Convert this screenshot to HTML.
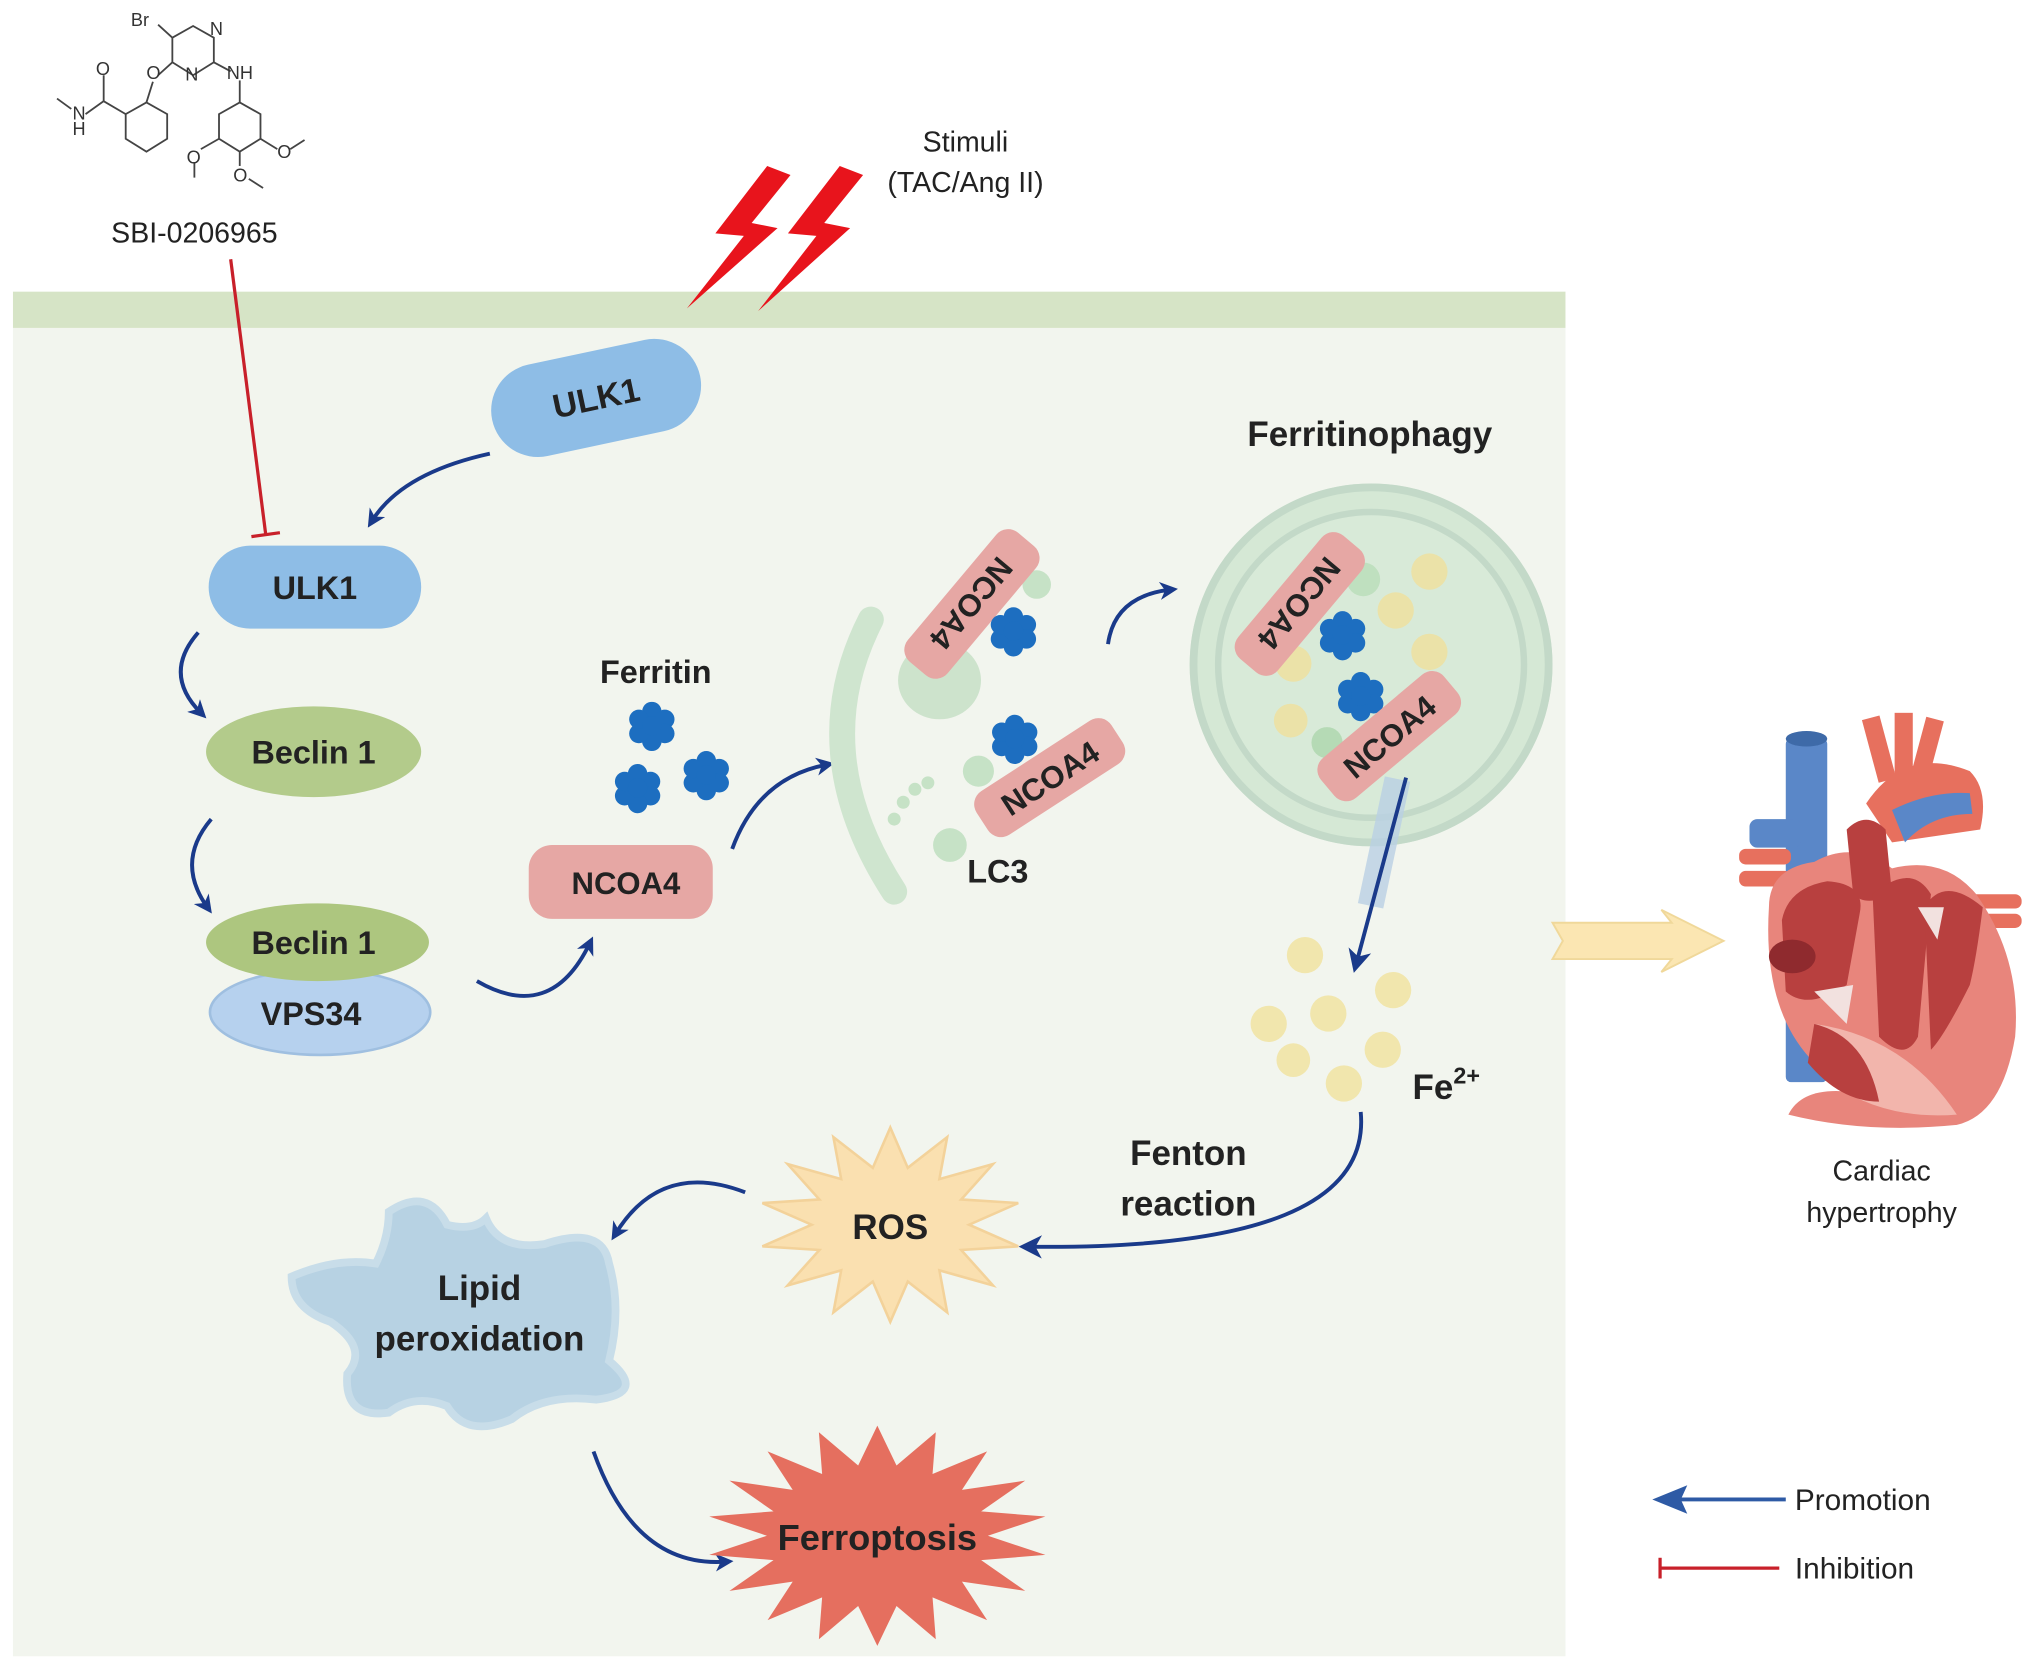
<!DOCTYPE html>
<html><head><meta charset="utf-8"><style>
html,body{margin:0;padding:0;background:#fff;}
svg{display:block;}
text{font-family:"Liberation Sans",Arial,sans-serif;}
.b{font-weight:bold;}
</style></head><body>
<svg id="s" width="2032" height="1668" viewBox="0 0 1568 1287" xmlns="http://www.w3.org/2000/svg">
<defs>
<marker id="ah" markerWidth="14" markerHeight="14" refX="8" refY="7" orient="auto" markerUnits="userSpaceOnUse" viewBox="0 0 14 14"><path d="M0,0 L14,7 L0,14 L4,7 Z" fill="#1a3a8a"/></marker>
<marker id="ah2" markerWidth="18" markerHeight="18" refX="9" refY="9" orient="auto" markerUnits="userSpaceOnUse" viewBox="0 0 18 18"><path d="M0,0 L18,9 L0,18 L5,9 Z" fill="#1a3a8a"/></marker>
<g id="fer" fill="#1d6ec0"><circle cx="0" cy="-11" r="7.5"/><circle cx="10" cy="-5" r="7.5"/><circle cx="10" cy="6" r="7.5"/><circle cx="0" cy="12" r="7.5"/><circle cx="-10" cy="6" r="7.5"/><circle cx="-10" cy="-5" r="7.5"/><circle cx="0" cy="0" r="7.5"/></g>
</defs>
<rect x="10" y="225" width="1198" height="28" fill="#d6e4c6"/>
<rect x="10" y="253" width="1198" height="1025" fill="#f2f5ee"/>

<g stroke="#444" stroke-width="1.4" fill="none">
<polygon points="113,79 129,88 129,107 113,117 97,107 97,88"/>
<polygon points="149,20 165,29 165,48 149,58 133,48 133,29"/>
<polygon points="185,79 201,88 201,107 185,117 169,107 169,88"/>
<line x1="113" y1="79" x2="118" y2="63"/><line x1="122" y1="58" x2="133" y2="48"/>
<line x1="97" y1="88" x2="80" y2="78"/><line x1="80" y1="78" x2="80" y2="58"/><line x1="80" y1="78" x2="66" y2="88"/><line x1="55" y1="84" x2="44" y2="76"/>
<line x1="133" y1="29" x2="122" y2="19"/><line x1="165" y1="48" x2="178" y2="55"/><line x1="185" y1="79" x2="185" y2="62"/>
<line x1="169" y1="107" x2="155" y2="115"/><line x1="150" y1="125" x2="150" y2="137"/>
<line x1="185" y1="117" x2="185" y2="128"/><line x1="192" y1="138" x2="203" y2="145"/>
<line x1="201" y1="107" x2="214" y2="115"/><line x1="224" y1="115" x2="235" y2="108"/>
</g>
<g font-size="14" fill="#333"><text x="101" y="20">Br</text><text x="162" y="27">N</text><text x="143" y="62">N</text><text x="113" y="61">O</text><text x="175" y="61">NH</text><text x="74" y="58">O</text><text x="56" y="92">N</text><text x="56" y="104">H</text><text x="144" y="126">O</text><text x="180" y="140">O</text><text x="214" y="122">O</text></g>
<text x="150" y="187" font-size="22" text-anchor="middle" fill="#222">SBI-0206965</text>
<line x1="178" y1="200" x2="205" y2="412" stroke="#c8202a" stroke-width="2.5"/>
<line x1="194" y1="414" x2="216" y2="411" stroke="#c8202a" stroke-width="2.5"/>

<path d="M592,128 L552,180 L574,182 L530,238 L600,176 L580,172 L610,135 Z" fill="#e8141c"/>
<path d="M648,128 L608,180 L630,182 L585,240 L656,176 L636,172 L666,135 Z" fill="#e8141c"/>
<text x="745" y="117" font-size="22" text-anchor="middle" fill="#222">Stimuli</text>
<text x="745" y="148" font-size="22" text-anchor="middle" fill="#222">(TAC/Ang II)</text>

<g transform="translate(460,307) rotate(-12)"><rect x="-82" y="-36" width="164" height="72" rx="36" fill="#8ebde6"/><text x="0" y="9" font-size="26" class="b" text-anchor="middle" fill="#222">ULK1</text></g>
<rect x="161" y="421" width="164" height="64" rx="32" fill="#8ebde6"/><text x="243" y="462" font-size="25" class="b" text-anchor="middle" fill="#222">ULK1</text>
<ellipse cx="242" cy="580" rx="83" ry="35" fill="#b3cb8b"/><text x="242" y="589" font-size="25" class="b" text-anchor="middle" fill="#222">Beclin 1</text>
<ellipse cx="247" cy="781" rx="85" ry="33" fill="#b6d1ee" stroke="#9fbfe0" stroke-width="2"/><text x="240" y="791" font-size="25" class="b" text-anchor="middle" fill="#222">VPS34</text>
<ellipse cx="245" cy="727" rx="86" ry="30" fill="#adc67f"/><text x="242" y="736" font-size="25" class="b" text-anchor="middle" fill="#222">Beclin 1</text>

<g stroke="#1a3a8a" stroke-width="3" fill="none">
<path d="M378,350 Q310,365 287,402" marker-end="url(#ah)"/>
<path d="M153,488 Q125,520 155,550" marker-end="url(#ah)"/>
<path d="M163,632 Q135,665 160,700" marker-end="url(#ah)"/>
<path d="M368,757 Q425,790 455,728" marker-end="url(#ah)"/>
<path d="M565,655 Q585,600 638,590" marker-end="url(#ah)"/>
<path d="M855,497 Q860,460 903,455" marker-end="url(#ah)"/>
<path d="M1050,858 Q1060,965 795,962" marker-end="url(#ah2)"/>
<path d="M575,920 Q510,895 475,952" marker-end="url(#ah)"/>
<path d="M458,1120 Q490,1210 560,1205" marker-end="url(#ah)"/>
</g>

<rect x="408" y="652" width="142" height="57" rx="18" fill="#e6a7a4"/><text x="483" y="690" font-size="24" class="b" text-anchor="middle" fill="#222">NCOA4</text>
<text x="506" y="527" font-size="25" class="b" text-anchor="middle" fill="#222">Ferritin</text>
<use href="#fer" x="503" y="560"/><use href="#fer" x="492" y="608"/><use href="#fer" x="545" y="598"/>

<path d="M672,478 Q620,580 690,688" stroke="#cfe5cf" stroke-width="20" fill="none" stroke-linecap="round"/>
<ellipse cx="725" cy="525" rx="32" ry="30" fill="#cde3cc"/>
<circle cx="800" cy="451" r="11" fill="#c6e2c6"/><circle cx="755" cy="595" r="12" fill="#c6e2c6"/><circle cx="733" cy="652" r="13" fill="#c6e2c6"/>
<g fill="#c6e2c6"><circle cx="690" cy="632" r="5"/><circle cx="697" cy="619" r="5"/><circle cx="706" cy="609" r="5"/><circle cx="716" cy="604" r="5"/></g>
<g transform="translate(750,466) rotate(130)"><rect x="-65" y="-20" width="130" height="40" rx="12" fill="#e6a7a4"/><text x="0" y="9" font-size="24" class="b" text-anchor="middle" fill="#222">NCOA4</text></g>
<use href="#fer" x="782" y="487"/><use href="#fer" x="783" y="570"/>
<g transform="translate(810,600) rotate(-33)"><rect x="-62" y="-20" width="124" height="40" rx="12" fill="#e6a7a4"/><text x="0" y="9" font-size="24" class="b" text-anchor="middle" fill="#222">NCOA4</text></g>
<text x="770" y="681" font-size="25" class="b" text-anchor="middle" fill="#222">LC3</text>

<text x="1057" y="344" font-size="27" class="b" text-anchor="middle" fill="#222">Ferritinophagy</text>
<circle cx="1058" cy="513" r="140" fill="#d5e8d5"/>
<circle cx="1058" cy="513" r="137" fill="none" stroke="#c3d9c8" stroke-width="6"/>
<circle cx="1058" cy="513" r="118" fill="#d8ead8" stroke="#c3d9c8" stroke-width="5"/>
<g fill="#ebe2a8"><circle cx="1103" cy="441" r="14"/><circle cx="1077" cy="471" r="14"/><circle cx="1103" cy="503" r="14"/><circle cx="998" cy="512" r="14"/><circle cx="1097" cy="547" r="12"/><circle cx="996" cy="556" r="13"/></g>
<circle cx="1052" cy="447" r="13" fill="#bfe0bf"/><circle cx="1024" cy="573" r="12" fill="#b5dab5"/>
<g transform="translate(1003,466) rotate(130)"><rect x="-62" y="-20" width="124" height="40" rx="12" fill="#e6a7a4"/><text x="0" y="9" font-size="24" class="b" text-anchor="middle" fill="#222">NCOA4</text></g>
<use href="#fer" x="1036" y="490"/><use href="#fer" x="1050" y="537"/>
<g transform="translate(1072,568) rotate(-40)"><rect x="-62" y="-20" width="124" height="40" rx="12" fill="#e6a7a4"/><text x="0" y="9" font-size="24" class="b" text-anchor="middle" fill="#222">NCOA4</text></g>
<g transform="translate(1068,650) rotate(12)"><rect x="-10" y="-50" width="20" height="100" fill="#b9cfe3" opacity="0.8"/></g>
<line x1="1085" y1="600" x2="1047" y2="742" stroke="#1a3a8a" stroke-width="3" marker-end="url(#ah2)"/>

<g fill="#f1e6ad"><circle cx="1007" cy="737" r="14"/><circle cx="1075" cy="764" r="14"/><circle cx="1025" cy="782" r="14"/><circle cx="979" cy="790" r="14"/><circle cx="1067" cy="810" r="14"/><circle cx="998" cy="818" r="13"/><circle cx="1037" cy="836" r="14"/></g>
<text x="1090" y="848" font-size="27" class="b" fill="#222">Fe<tspan font-size="18" dy="-12">2+</tspan></text>
<text x="917" y="899" font-size="27" class="b" text-anchor="middle" fill="#222">Fenton</text>
<text x="917" y="938" font-size="27" class="b" text-anchor="middle" fill="#222">reaction</text>

<polygon id="ros" fill="#fae0b0" stroke="#f3d29a" stroke-width="2"/>
<text x="687" y="956" font-size="27" class="b" text-anchor="middle" fill="#222">ROS</text>
<polygon id="ferp" fill="#e56f5f"/>
<text x="677" y="1196" font-size="28" class="b" text-anchor="middle" fill="#222">Ferroptosis</text>

<path d="M300,935 Q330,915 345,945 Q365,950 375,940 Q385,965 420,960 Q465,945 470,975 Q480,1010 470,1050 Q500,1075 460,1080 Q420,1075 395,1095 Q360,1110 345,1085 Q320,1075 300,1090 Q265,1095 268,1060 Q285,1040 255,1020 Q225,1010 225,985 Q260,970 290,975 Q300,955 300,935 Z" fill="#b7d2e3" stroke="#c8dde9" stroke-width="6"/>
<text x="370" y="1003" font-size="27" class="b" text-anchor="middle" fill="#222">Lipid</text>
<text x="370" y="1042" font-size="27" class="b" text-anchor="middle" fill="#222">peroxidation</text>

<path d="M1198,712 L1290,712 L1282,702 L1330,726 L1282,750 L1290,740 L1198,740 L1206,726 Z" fill="#fbe6b2" stroke="#f0d89a" stroke-width="1.5"/>

<g>
<rect x="1378" y="570" width="32" height="265" rx="4" fill="#5a87c8"/>
<ellipse cx="1394" cy="570" rx="16" ry="6" fill="#3e6aa8"/>
<rect x="1350" y="632" width="40" height="22" rx="6" fill="#5a87c8"/>
<path d="M1440,620 Q1470,575 1520,595 Q1535,610 1528,640 L1460,650 Z" fill="#e7705e"/>
<rect x="1443" y="553" width="14" height="50" fill="#e7705e" transform="rotate(-15 1450 578)"/>
<rect x="1462" y="550" width="14" height="50" fill="#e7705e"/>
<rect x="1480" y="554" width="14" height="50" fill="#e7705e" transform="rotate(15 1487 578)"/>
<rect x="1342" y="655" width="40" height="12" rx="5" fill="#e7705e"/><rect x="1342" y="672" width="40" height="12" rx="5" fill="#e7705e"/>
<rect x="1520" y="690" width="40" height="11" rx="5" fill="#e7705e"/><rect x="1520" y="705" width="40" height="11" rx="5" fill="#e7705e"/>
<path d="M1365,700 Q1365,670 1400,665 Q1430,648 1460,670 Q1500,660 1525,690 Q1560,740 1555,800 Q1545,860 1510,868 Q1450,870 1400,820 Q1360,780 1365,700 Z" fill="#e8857c"/>
<path d="M1380,860 Q1440,875 1510,868 Q1400,820 1380,860 Z" fill="#e8857c"/>
<path d="M1400,790 Q1470,800 1510,860 Q1450,865 1405,830 Z" fill="#f2b5ac"/>
<path d="M1375,710 Q1380,685 1410,680 Q1440,682 1435,705 L1425,760 Q1395,780 1378,765 Z" fill="#b8403f"/>
<ellipse cx="1383" cy="738" rx="18" ry="13" fill="#8f2a2e"/>
<path d="M1425,640 Q1440,625 1455,640 L1460,690 Q1440,700 1430,690 Z" fill="#b8403f"/>
<path d="M1445,690 Q1475,665 1490,690 L1480,800 Q1470,820 1450,800 Z" fill="#b8403f"/>
<path d="M1485,700 Q1500,675 1530,700 Q1525,740 1520,760 Q1500,800 1490,810 Z" fill="#b8403f"/>
<path d="M1400,790 Q1440,800 1450,850 Q1420,850 1395,820 Z" fill="#b8403f"/>
<path d="M1460,625 Q1490,610 1520,612 L1522,628 Q1490,628 1470,650 Z" fill="#5a87c8"/>
<path d="M1480,700 L1500,700 L1495,725 Z M1400,765 L1430,760 L1425,790 Z" fill="#f2e1df"/>
</g>
<text x="1452" y="911" font-size="22" text-anchor="middle" fill="#222">Cardiac</text>
<text x="1452" y="943" font-size="22" text-anchor="middle" fill="#222">hypertrophy</text>

<line x1="1378" y1="1157" x2="1290" y2="1157" stroke="#2e5aa5" stroke-width="3"/>
<path d="M1275,1157 L1302,1146 L1297,1157 L1302,1168 Z" fill="#2e5aa5"/>
<text x="1385" y="1165" font-size="23" fill="#222">Promotion</text>
<line x1="1280" y1="1210" x2="1373" y2="1210" stroke="#c8202a" stroke-width="2.5"/>
<line x1="1281" y1="1202" x2="1281" y2="1218" stroke="#c8202a" stroke-width="2.5"/>
<text x="1385" y="1218" font-size="23" fill="#222">Inhibition</text>
</svg>
<script>
function star(id,cx,cy,n,ro,ri,rx){var p=[];for(var i=0;i<2*n;i++){var a=Math.PI*i/n-Math.PI/2;var r=i%2?ri:ro;p.push((cx+r*Math.cos(a)*rx).toFixed(1)+","+(cy+r*Math.sin(a)).toFixed(1));}document.getElementById(id).setAttribute("points",p.join(" "));}
star("ros",687,945,14,75,45,1.35);
star("ferp",677,1185,18,85,55,1.55);
</script>
</body></html>
